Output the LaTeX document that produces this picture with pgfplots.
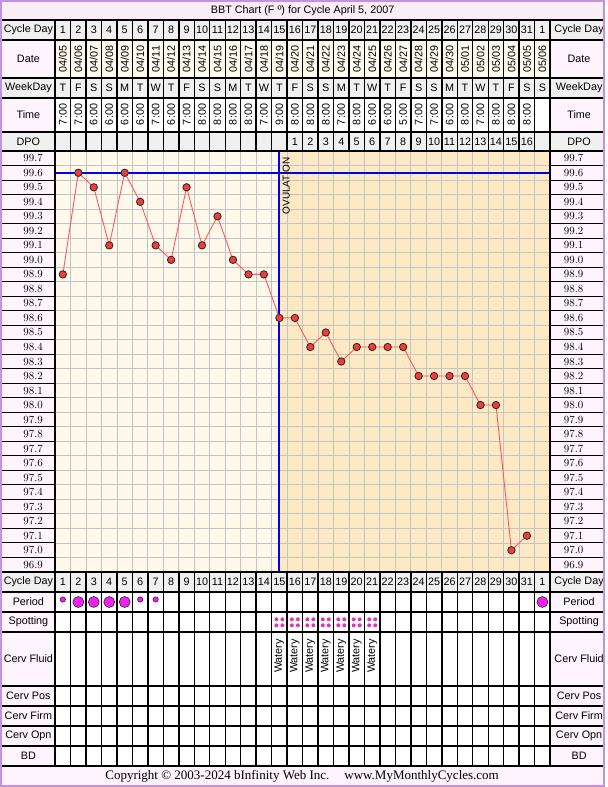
\documentclass[border=0pt]{standalone}
\usepackage{pgfplots}
\pgfplotsset{compat=1.18}
\usepackage{fontspec}
\setmainfont{Liberation Sans}
\newfontfamily\seriffont{Liberation Serif}

\definecolor{framec}{HTML}{C88EE0}
\definecolor{titlebg}{HTML}{F8EEF8}
\definecolor{labelbg}{HTML}{FEF4FE}
\definecolor{cellgray}{HTML}{F0F0F0}
\definecolor{datebg}{HTML}{FFFAEE}
\definecolor{prebg}{HTML}{FFF9EC}
\definecolor{postbg}{HTML}{FDE9C4}
\definecolor{gridc}{HTML}{C4C4C4}
\definecolor{tempred}{HTML}{F03C3C}
\definecolor{linered}{HTML}{FF5A5A}
\definecolor{coverblue}{HTML}{0000F0}
\definecolor{periodc}{HTML}{EE22EE}
\definecolor{spotc}{HTML}{E035C0}

% spotting: four small dots in a square
\pgfdeclareplotmark{spot4}{%
  \pgfpathcircle{\pgfpoint{-3bp}{3bp}}{2bp}%
  \pgfpathcircle{\pgfpoint{3bp}{3bp}}{2bp}%
  \pgfpathcircle{\pgfpoint{-3bp}{-3bp}}{2bp}%
  \pgfpathcircle{\pgfpoint{3bp}{-3bp}}{2bp}%
  \pgfusepathqfill}

\newcommand\fs{\fontsize{10.8bp}{12bp}\selectfont}
\def\cw{15.46875}

\begin{document}
\begin{tikzpicture}
\path (0,0) rectangle (605bp,787bp);

% temperature plot
\begin{axis}[
  at={(55bp,215bp)}, anchor=south west,
  width=495bp, height=421bp, scale only axis,
  set layers=standard,
  xmin=0.5, xmax=32.5, ymin=96.85, ymax=99.75,
  xtick={0.5,1.5,...,32.5},
  ytick={96.85,96.95,97.05,97.15,97.25,97.35,97.45,97.55,97.65,97.75,97.85,97.95,98.05,98.15,98.25,98.35,98.45,98.55,98.65,98.75,98.85,98.95,99.05,99.15,99.25,99.35,99.45,99.55,99.65,99.75},
  xticklabels={}, yticklabels={},
  major tick length=0pt,
  xmajorgrids, ymajorgrids,
  grid style={draw=gridc, line width=0.9bp},
  axis line style={draw=black, line width=1bp},
  clip=false,
]
\addplot[draw=none, fill=prebg, on layer=axis background]
  coordinates {(0.5,96.85)(15,96.85)(15,99.75)(0.5,99.75)(0.5,96.85)};
\addplot[draw=none, fill=postbg, on layer=axis background]
  coordinates {(15,96.85)(32.5,96.85)(32.5,99.75)(15,99.75)(15,96.85)};
\addplot[coverblue, line width=2bp] coordinates {(0.5,99.6)(32.5,99.6)};
\addplot[coverblue, line width=2bp] coordinates {(15,96.85)(15,99.75)};
\addplot[linered, line width=0.9bp, mark=*, mark size=3.7bp,
  mark options={fill=tempred, draw=black!85, line width=0.8bp}]
  coordinates {
  (1,98.9)(2,99.6)(3,99.5)(4,99.1)(5,99.6)(6,99.4)(7,99.1)(8,99.0)
  (9,99.5)(10,99.1)(11,99.3)(12,99.0)(13,98.9)(14,98.9)(15,98.6)(16,98.6)
  (17,98.4)(18,98.5)(19,98.3)(20,98.4)(21,98.4)(22,98.4)(23,98.4)(24,98.2)
  (25,98.2)(26,98.2)(27,98.2)(28,98.0)(29,98.0)(30,97.0)(31,97.1)};
\end{axis}

% table around the plot, pixel coordinates from top left
\begin{scope}[x=1bp, y=-1bp, yshift=787bp]
  % backgrounds
  \fill[titlebg] (1,1) rectangle (604,20);
  \fill[cellgray] (1,20) rectangle (604,40);
  \fill[labelbg] (1,40) rectangle (55,78);
  \fill[datebg] (55,40) rectangle (550,78);
  \fill[labelbg] (550,40) rectangle (604,78);
  \fill[cellgray] (1,78) rectangle (604,98);
  \fill[labelbg] (1,98) rectangle (55,132);
  \fill[white] (55,98) rectangle (550,132);
  \fill[labelbg] (550,98) rectangle (604,132);
  \fill[cellgray] (1,132) rectangle (604,151);
  \fill[labelbg] (1,151) rectangle (55,572);
  \fill[labelbg] (550,151) rectangle (604,572);
  \fill[cellgray] (1,572) rectangle (604,592);
  \fill[labelbg] (1,592) rectangle (55,766);
  \fill[white] (55,592) rectangle (550,766);
  \fill[labelbg] (550,592) rectangle (604,766);
  \fill[labelbg] (1,766) rectangle (604,786);

  % title
  \node[font=\fs] at (302.5,10.5) {BBT Chart (F º) for Cycle April 5, 2007};

  % temperature labels
  \foreach \k in {0,...,28} {
    \pgfmathsetmacro\yy{151+(\k+0.5)*14.51724}
    \pgfmathsetmacro\tv{99.7-0.1*\k}
    \node[font=\fs\bfseries] at (33,\yy) {\pgfmathprintnumber[fixed,fixed zerofill,precision=1]{\tv}};
    \node[font=\fs\bfseries] at (573.5,\yy) {\pgfmathprintnumber[fixed,fixed zerofill,precision=1]{\tv}};
  }
  \foreach \k in {1,...,28} {
    \pgfmathsetmacro\yy{151+\k*14.51724}
    \draw[black, line width=1bp] (1,\yy) -- (55,\yy);
    \draw[black, line width=1bp] (550,\yy) -- (604,\yy);
  }

  % row labels
  \foreach \lab/\yy in {Cycle Day/30, Date/59, WeekDay/88, Time/115, DPO/141.5,
      Cycle Day/582, Period/602, Spotting/622, Cerv Fluid/659, Cerv Pos/696,
      Cerv Firm/716, Cerv Opn/736, BD/756} {
    \node[font=\fs] at (28.3,\yy) {\lab};
    \node[font=\fs] at (579,\yy) {\lab};
  }

  % header and footer cell contents
  \foreach \i in {1,...,32} {
    \pgfmathsetmacro\cx{55+(\i-0.5)*\cw}
    \node[font=\fs] at (\cx,30) {\ifnum\i=32 1\else\i\fi};
    \node[font=\fs] at (\cx,582) {\ifnum\i=32 1\else\i\fi};
  }
  \foreach \i in {16,...,31} {
    \pgfmathsetmacro\cx{55+(\i-0.5)*\cw}
    \pgfmathtruncatemacro\dpo{\i-15}
    \node[font=\fs] at (\cx,141.5) {\dpo};
  }
  \foreach \dt [count=\i] in {04/05,04/06,04/07,04/08,04/09,04/10,04/11,04/12,
      04/13,04/14,04/15,04/16,04/17,04/18,04/19,04/20,04/21,04/22,04/23,04/24,
      04/25,04/26,04/27,04/28,04/29,04/30,05/01,05/02,05/03,05/04,05/05,05/06} {
    \pgfmathsetmacro\cx{55+(\i-0.5)*\cw}
    \node[font=\fs, rotate=90] at (\cx,59) {\dt};
  }
  \foreach \wkday [count=\i] in {T,F,S,S,M,T,W,T,F,S,S,M,T,W,T,F,S,S,M,T,W,T,F,S,S,M,T,W,T,F,S,S} {
    \pgfmathsetmacro\cx{55+(\i-0.5)*\cw}
    \node[font=\fs] at (\cx,88) {\wkday};
  }
  \foreach \tm [count=\i] in {7:00,7:00,6:00,6:00,6:00,6:00,7:00,6:00,7:00,8:00,
      8:00,8:00,8:00,7:00,9:00,8:00,8:00,8:00,7:00,8:00,6:00,6:00,5:00,7:00,
      7:00,6:00,8:00,7:00,8:00,8:00,8:00} {
    \pgfmathsetmacro\cx{55+(\i-0.5)*\cw}
    \node[font=\fs, rotate=90] at (\cx,114.5) {\tm};
  }
  \foreach \i in {15,...,21} {
    \pgfmathsetmacro\cx{55+(\i-0.5)*\cw}
    \node[font=\fs, rotate=90] at (\cx,656) {Watery};
  }

  % grid lines of the tables
  \foreach \k in {0,...,32} {
    \pgfmathsetmacro\xx{55+\k*\cw}
    \draw[black, line width=1.4bp] (\xx,20) -- (\xx,151);
    \draw[black, line width=1.4bp] (\xx,572) -- (\xx,766);
  }
  \draw[black, line width=1.4bp] (550,151) -- (550,572);
  \draw[black, line width=1.4bp] (55,151) -- (55,572);
  \foreach \yy in {20,40,78,98,132,151,572,592,612,632,686,706,726,746,766} {
    \draw[black, line width=2.2bp] (1,\yy) -- (604,\yy);
  }

  % ovulation label
  \node[font=\fontsize{10bp}{12bp}\selectfont, rotate=90, anchor=east, inner sep=0pt] at (286,157) {OVULATION};

  % copyright
  \node[font=\seriffont\fontsize{13bp}{15bp}\selectfont] at (302,776.5)
    {Copyright © 2003-2024 bInfinity Web Inc.\hspace{15bp}www.MyMonthlyCycles.com};

  \draw[framec, line width=2bp] (1,1) rectangle (604,786);
\end{scope}

% period and spotting marks
\begin{axis}[
  at={(55bp,21bp)}, anchor=south west,
  width=495bp, height=194bp, scale only axis,
  xmin=0.5, xmax=32.5, ymin=572, ymax=766, y dir=reverse,
  hide axis, clip=false,
]
\addplot[only marks, draw=none, fill=periodc, mark=*, mark size=5.5bp,
  mark options={fill=periodc, draw=none}]
  coordinates {(2,602)(3,602)(4,602)(5,602)(32,602)};
\addplot[only marks, draw=none, fill=periodc, mark=*, mark size=2.7bp,
  mark options={fill=periodc, draw=none}]
  coordinates {(1,599.5)(6,599.5)(7,599.5)};
\addplot[only marks, draw=none, fill=spotc, mark=spot4,
  mark options={fill=spotc, draw=none}]
  coordinates {(15,622.3)(16,622.3)(17,622.3)(18,622.3)(19,622.3)(20,622.3)(21,622.3)};
\end{axis}
\end{tikzpicture}
\end{document}
